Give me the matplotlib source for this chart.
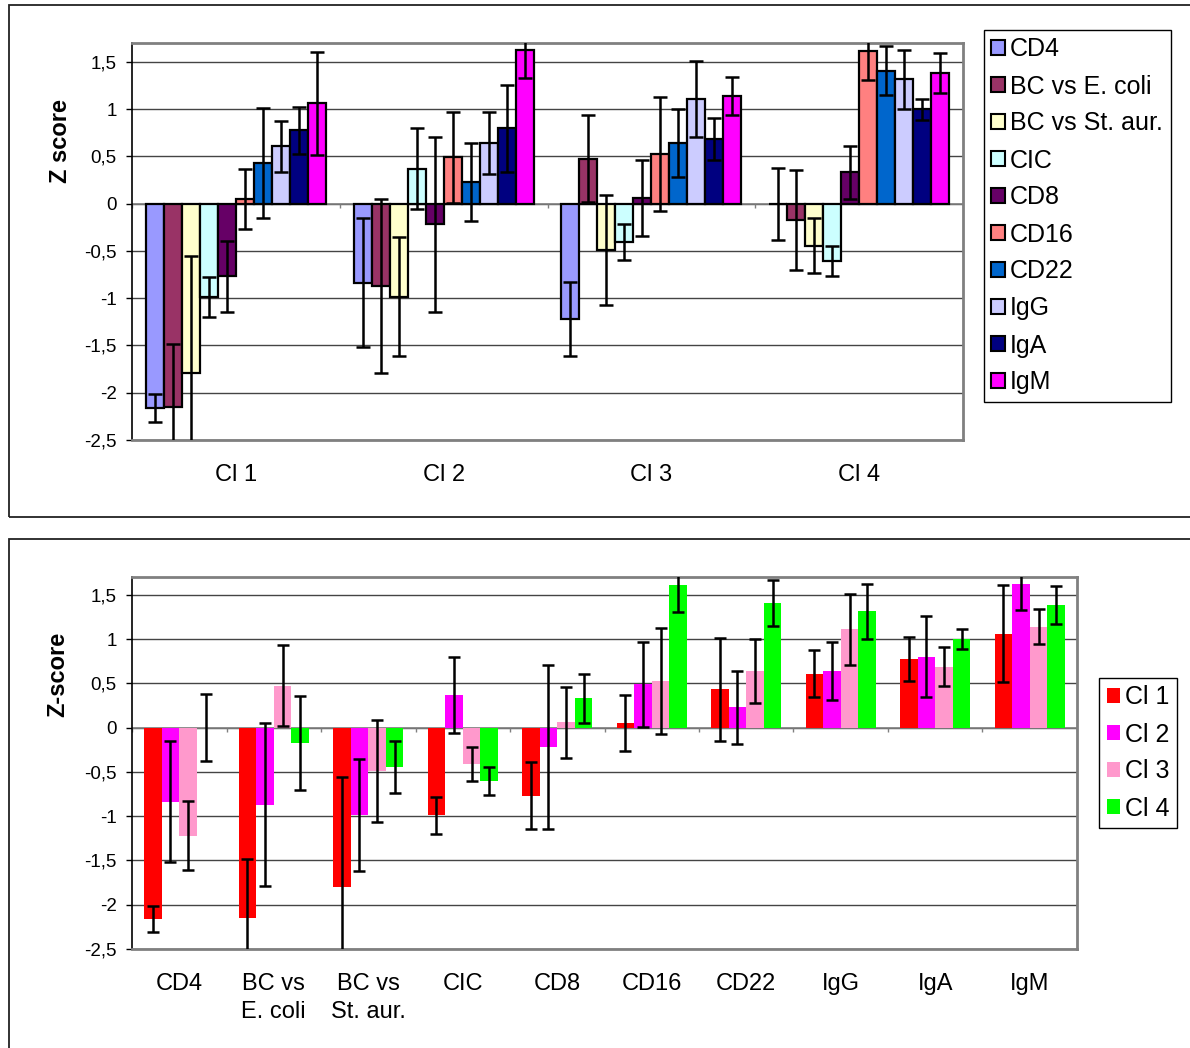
import numpy as np
import matplotlib
matplotlib.use("Agg")
import matplotlib.pyplot as plt
from matplotlib.patches import Rectangle, Patch
from matplotlib.ticker import FuncFormatter

plt.rcParams['font.family'] = ['Liberation Sans', 'DejaVu Sans']

# データ
clusters = ["Cl 1", "Cl 2", "Cl 3", "Cl 4"]
markers = ["CD4", "BC vs E. coli", "BC vs St. aur.", "CIC", "CD8",
           "CD16", "CD22", "IgG", "IgA", "IgM"]
marker_ticks = ["CD4", "BC vs\nE. coli", "BC vs\nSt. aur.", "CIC", "CD8",
                "CD16", "CD22", "IgG", "IgA", "IgM"]

cl1_vals = [-2.16, -2.155, -1.795, -0.99, -0.77, 0.05, 0.43, 0.61, 0.775, 1.06]
cl1_err = [0.15, 0.67, 1.24, 0.21, 0.38, 0.32, 0.58, 0.27, 0.25, 0.55]
cl2_vals = [-0.835, -0.87, -0.985, 0.37, -0.22, 0.49, 0.23, 0.64, 0.80, 1.625]
cl2_err = [0.68, 0.92, 0.63, 0.43, 0.93, 0.48, 0.41, 0.33, 0.46, 0.30]
cl3_vals = [-1.22, 0.475, -0.49, -0.41, 0.06, 0.525, 0.64, 1.11, 0.685, 1.14]
cl3_err = [0.39, 0.46, 0.58, 0.19, 0.40, 0.60, 0.36, 0.40, 0.22, 0.20]
cl4_vals = [0.0, -0.175, -0.445, -0.605, 0.33, 1.615, 1.405, 1.315, 1.0, 1.385]
cl4_err = [0.38, 0.53, 0.29, 0.16, 0.28, 0.31, 0.26, 0.31, 0.11, 0.21]

marker_colors = ["#9999FF", "#993366", "#FFFFCC", "#CCFFFF", "#660066",
                 "#FF8080", "#0066CC", "#CCCCFF", "#000080", "#FF00FF"]
cluster_colors = ["#FF0000", "#FF00FF", "#FF99CC", "#00FF00"]

vals = np.array([cl1_vals, cl2_vals, cl3_vals, cl4_vals])
errs = np.array([cl1_err, cl2_err, cl3_err, cl4_err])

W, H = 1190, 1048
fig = plt.figure(figsize=(W / 100, H / 100), dpi=100)

# パネル枠
fig.add_artist(Rectangle((9 / W, 1 - 517 / H), 1.2, 512 / H, transform=fig.transFigure,
                         fill=False, ec="#222222", lw=1.3))
fig.add_artist(Rectangle((9 / W, -0.1), 1.2, 1 - 539 / H + 0.1, transform=fig.transFigure,
                         fill=False, ec="#222222", lw=1.3))

fmt = FuncFormatter(lambda v, p: ("%g" % v).replace(".", ","))


def style_axes(ax, n):
    ax.set_ylim(-2.5, 1.7)
    ax.set_xlim(-0.5, n - 0.5)
    ax.set_yticks(np.arange(-2.5, 1.51, 0.5))
    ax.yaxis.set_major_formatter(fmt)
    ax.grid(axis="y", color="#444444", lw=1.0)
    ax.set_axisbelow(True)
    for s in ["top", "right", "bottom"]:
        ax.spines[s].set_color("#808080")
        ax.spines[s].set_linewidth(2)
    ax.spines["left"].set_color("black")
    ax.spines["left"].set_linewidth(1.2)
    ax.tick_params(axis="y", length=4, width=1, pad=7, labelsize=13.5)
    ax.tick_params(axis="x", length=0, pad=17, labelsize=17)
    ax.axhline(0, color="#808080", lw=1.2, zorder=1.5)
    ax.vlines(np.arange(n + 1) - 0.5, -0.05, 0, color="#808080", lw=1, zorder=1.5)


def add_legend(ax, handles, labels, x, y):
    ax.legend(handles, labels, loc="upper left", bbox_to_anchor=(x / W, 1 - y / H),
              bbox_transform=fig.transFigure, fontsize=18, frameon=True, fancybox=False,
              edgecolor="black", framealpha=1, handlelength=0.55, handleheight=0.55,
              handletextpad=0.2, labelspacing=0.52, borderpad=0.3, borderaxespad=0)


# 上段
ax1 = fig.add_axes([132 / W, 1 - 440 / H, (963 - 132) / W, (440 - 43) / H])
w1 = 0.0866
x1 = np.arange(len(clusters))
for j, m in enumerate(markers):
    ax1.bar(x1 + (j - 4.5) * w1, vals[:, j], w1, color=marker_colors[j],
            edgecolor="black", lw=1.6, label=m, zorder=2)
    ax1.errorbar(x1 + (j - 4.5) * w1, vals[:, j], yerr=errs[:, j], fmt="none",
                 ecolor="black", elinewidth=1.8, capsize=4.8, capthick=1.8, zorder=3)
style_axes(ax1, len(clusters))
ax1.set_xticks(x1, clusters)
ax1.set_ylabel("Z score", fontsize=17, fontweight="bold")
ax1.yaxis.set_label_coords(-0.072, 0.753)
add_legend(ax1, [Patch(fc=c, ec="black", lw=1.5) for c in marker_colors], markers, 984, 30)

# 下段
ax2 = fig.add_axes([132 / W, 1 - 949 / H, (1077 - 132) / W, (949 - 577) / H])
w2 = 0.186
x2 = np.arange(len(markers))
for i, c in enumerate(clusters):
    ax2.bar(x2 + (i - 1.5) * w2, vals[i], w2, color=cluster_colors[i], lw=0,
            label=c, zorder=2)
    ax2.errorbar(x2 + (i - 1.5) * w2, vals[i], yerr=errs[i], fmt="none",
                 ecolor="black", elinewidth=1.8, capsize=4.5, capthick=1.8, zorder=3)
style_axes(ax2, len(markers))
ax2.set_xticks(x2, marker_ticks)
for t in ax2.get_xticklabels():
    t.set_linespacing(1.35)
ax2.set_ylabel("Z-score", fontsize=17, fontweight="bold")
ax2.yaxis.set_label_coords(-0.066, 0.737)
add_legend(ax2, [Patch(fc=c, ec="none") for c in cluster_colors], clusters, 1099, 678)

fig.savefig("out.png", dpi=100)
